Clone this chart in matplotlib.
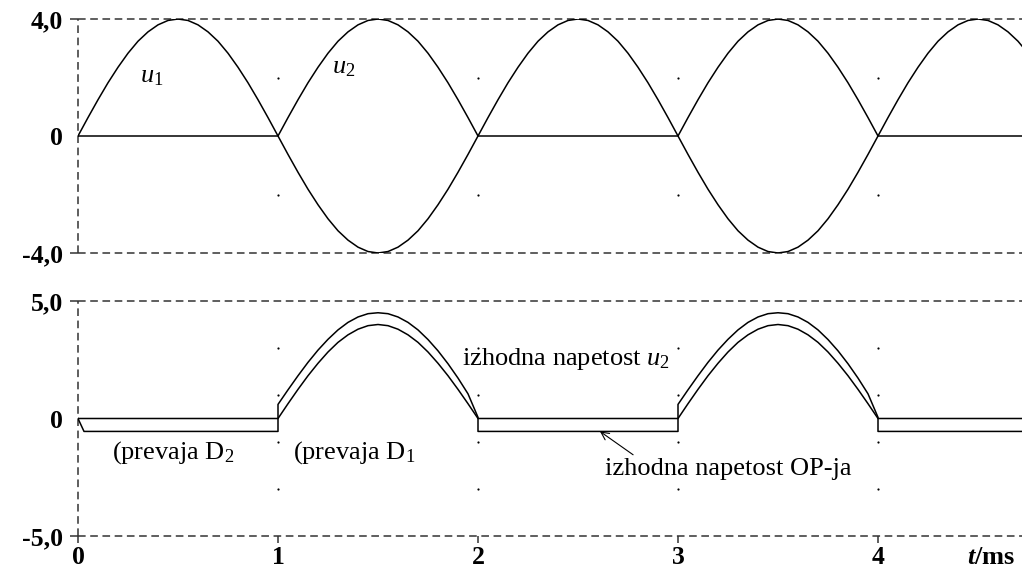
import numpy as np
import matplotlib
matplotlib.use("Agg")
import matplotlib.pyplot as plt
from matplotlib.font_manager import FontProperties
from matplotlib.transforms import blended_transform_factory

# fonts: Times-like serif everywhere, also inside mathtext
plt.rcParams['font.family'] = ['Liberation Serif', 'DejaVu Serif']
plt.rcParams['mathtext.fontset'] = 'custom'
plt.rcParams['mathtext.rm'] = 'Liberation Serif'
plt.rcParams['mathtext.it'] = 'Liberation Serif:italic'
plt.rcParams['mathtext.bf'] = 'Liberation Serif:bold'
plt.rcParams['mathtext.bfit'] = 'Liberation Serif:italic:bold'

# ---- data (time in ms, voltage in V) ----
step = 0.05                 # sample spacing, ms
t_end = 4.72                # visible time window
# one half-wave of the input, sampled every 0.05 ms
half_wave = [0.00, 0.63, 1.24, 1.82, 2.35, 2.83, 3.24, 3.56, 3.80, 3.95, 4.00,
             3.95, 3.80, 3.56, 3.24, 2.83, 2.35, 1.82, 1.24, 0.63, 0.00]
half_signs = [1, -1, 1, -1, 1]          # polarity of u1 in each half period
# OP output while D1 conducts (rides above u2 by the diode drop)
op_hump = [0.60, 1.22, 1.82, 2.39, 2.91, 3.37, 3.77, 4.09, 4.32, 4.46, 4.50,
           4.46, 4.32, 4.09, 3.77, 3.36, 2.88, 2.33, 1.72, 1.05, 0.05]
op_low = -0.55              # OP output while D2 conducts

# build the waveforms half period by half period
hw = np.array(half_wave)
op = np.array(op_hump)
th = np.arange(len(hw)) * step
t_all, u1, u2, t_op, u_op = [], [], [], [], []
for k, s in enumerate(half_signs):
    t_all.append(th + k)
    u1.append(s * hw)
    u2.append(hw if s < 0 else np.zeros_like(hw))
    if s < 0:
        t_op.append(np.concatenate([[k], th + k]))
        u_op.append(np.concatenate([[op_low], op]))
    else:
        t_op.append(np.array([k, k + 0.03, k + 0.97]))
        u_op.append(np.array([0.0 if k == 0 else op_low, op_low, op_low]))
t_all = np.concatenate(t_all)
u1 = np.concatenate(u1)
u2 = np.concatenate(u2)
t_op = np.concatenate(t_op)
u_op = np.concatenate(u_op)

# ---- figure ----
W, H = 1022, 567
fig = plt.figure(figsize=(W / 100, H / 100), dpi=100)
ax1 = fig.add_axes([78 / W, 1 - 253 / H, (W - 78) / W, 234 / H])
ax2 = fig.add_axes([78 / W, 1 - 536 / H, (W - 78) / W, 235 / H])

dash_kw = dict(color='#333333', lw=1.1, dashes=(5, 3), clip_on=False)
tick_font = FontProperties(family='Liberation Serif', weight='bold', size=18.5)
fs = 19


def frame(ax, ylim, grid_y):
    ax.set_xlim(0, t_end)
    ax.set_ylim(-ylim, ylim)
    for sp in ax.spines.values():
        sp.set_visible(False)
    ax.axhline(ylim, **dash_kw)
    ax.axhline(-ylim, **dash_kw)
    ax.axvline(0, **dash_kw)
    gx, gy = np.meshgrid([1, 2, 3, 4], grid_y)
    ax.scatter(gx.ravel(), gy.ravel(), s=2.5, color='black', lw=0, zorder=1)
    lab = f"{ylim:.1f}".replace('.', ',')
    ax.set_yticks([-ylim, ylim], ['-' + lab, lab])
    ax.set_yticks([0], ['0'], minor=True)
    ax.tick_params(axis='y', which='major', length=6, width=1.1, pad=5,
                   color='#333333')
    ax.tick_params(axis='y', which='minor', length=0, pad=11)
    for t in ax.get_yticklabels(minor=False) + ax.get_yticklabels(minor=True):
        t.set_fontproperties(tick_font)


# top panel: input voltage u1 and rectified u2
frame(ax1, 4.0, [-2, 2])
ax1.set_xticks([])
ax1.plot(t_all, u1, color='black', lw=1.1)
ax1.plot(t_all, u2, color='black', lw=1.1)
ax1.text(0.31, 2.0, r'$u_1$', fontsize=fs, ha='left', va='center')
ax1.text(1.27, 2.32, r'$u_2$', fontsize=fs, ha='left', va='center')

# bottom panel: output voltage u2 and OP-amp output
frame(ax2, 5.0, [-3, -1, 1, 3])
ax2.plot(t_all, u2, color='black', lw=1.1)
ax2.plot(t_op, u_op, color='black', lw=1.1)
ax2.set_xticks([0, 1, 2, 3, 4], ['0', '1', '2', '3', '4'])
ax2.tick_params(axis='x', length=5, width=1.1, pad=2, color='#333333')
for t in ax2.get_xticklabels():
    t.set_fontproperties(tick_font)

ax2.text(1.92, 2.55, r'izhodna napetost $u_2$', fontsize=fs, ha='left', va='center')
ax2.text(0.17, -1.45, r'(prevaja D$_2$', fontsize=fs, ha='left', va='center')
ax2.text(1.075, -1.45, r'(prevaja D$_1$', fontsize=fs, ha='left', va='center')
ax2.annotate('izhodna napetost OP-ja', xy=(2.61, op_low), xytext=(2.635, -2.13),
             fontsize=fs, ha='left', va='center',
             arrowprops=dict(arrowstyle='->', lw=0.8, color='black',
                             relpos=(0.13, 1.0), shrinkA=0, shrinkB=0,
                             mutation_scale=14))

trans = blended_transform_factory(ax2.transAxes, ax2.transAxes)
ax2.text(0.993, -0.09, r'$\mathbfit{t}$/ms', transform=trans, ha='right', va='center',
         fontsize=fs, fontweight='bold')

fig.savefig('out.png', dpi=100)
